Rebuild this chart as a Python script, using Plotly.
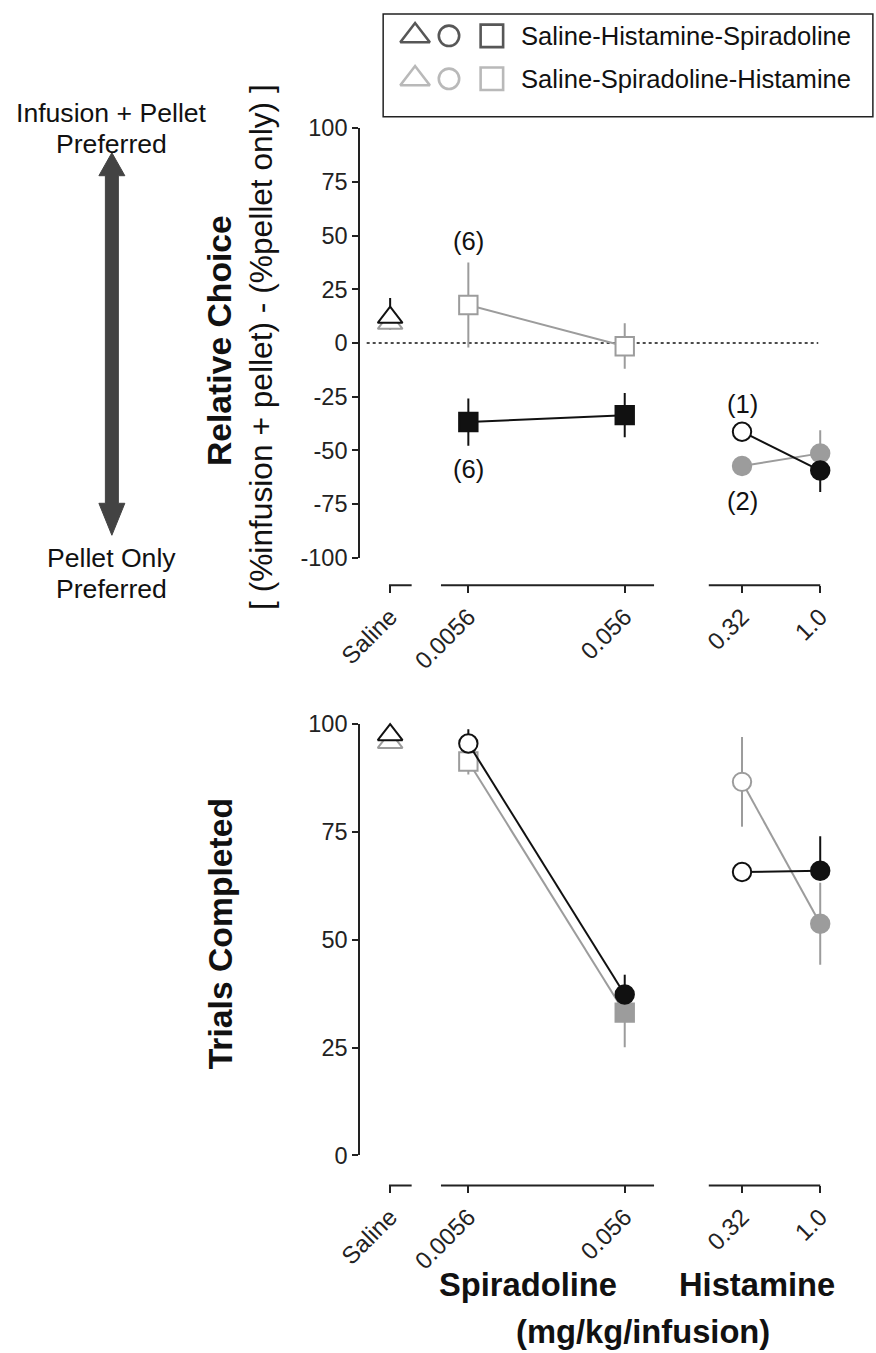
import plotly.graph_objects as go

W, H = 876, 1353

# ---------------- data ----------------
x_labels = ["Saline", "0.0056", "0.056", "0.32", "1.0"]
x_pos = [0, 2, 6, 9, 11]          # positions on the broken dose axis
spir_x = [x_pos[1], x_pos[2]]
hist_x = [x_pos[3], x_pos[4]]
sal_x = [x_pos[0]]

# Relative choice (top panel)
rc_sal_black = [11.9]
rc_sal_black_err = [9.0]
rc_sal_gray = [9.1]
rc_sal_gray_err = [3.0]
rc_spir_gray = [17.7, -1.5]
rc_spir_gray_up = [19.8, 10.7]
rc_spir_gray_dn = [19.8, 10.5]
rc_spir_black = [-36.8, -33.6]
rc_spir_black_up = [11.0, 10.3]
rc_spir_black_dn = [11.0, 10.3]
rc_hist_gray = [-57.3, -51.4]
rc_hist_gray_up = [0.0, 10.8]
rc_hist_gray_dn = [0.0, 0.0]
rc_hist_black = [-41.3, -59.4]
rc_hist_black_up = [0.0, 0.0]
rc_hist_black_dn = [0.0, 10.0]

# Trials completed (bottom panel)
tc_sal_black = [97.5]
tc_sal_black_err = [3.0]
tc_sal_gray = [95.7]
tc_sal_gray_err = [1.5]
tc_spir_gray = [91.3, 33.1]
tc_spir_gray_up = [3.0, 0.0]
tc_spir_gray_dn = [3.0, 8.0]
tc_spir_black = [95.5, 37.3]
tc_spir_black_up = [3.3, 4.6]
tc_spir_black_dn = [0.0, 0.0]
tc_hist_gray = [86.6, 53.7]
tc_hist_gray_up = [10.4, 9.5]
tc_hist_gray_dn = [10.4, 9.5]
tc_hist_black = [65.7, 66.0]
tc_hist_black_up = [0.0, 8.0]
tc_hist_black_dn = [0.0, 0.0]

n_labels_top = [("(6)", 1, 47.5), ("(6)", 1, -58.7), ("(1)", 3, -28.4), ("(2)", 3, -73.7)]

series_names = ["Saline-Histamine-Spiradoline", "Saline-Spiradoline-Histamine"]

# ---------------- style ----------------
BLACK = "#111111"
GRAY = "#9c9c9c"
AX = "#222222"
FONT = "Arial, Liberation Sans, Helvetica, sans-serif"

# the photographed page shows a slightly enlarged viewport; compensate
SX, OX = 0.974, 20.9
SY, OY = 0.982, 12.1
K = 1 / 0.978  # size compensation


def clamp(v):
    return max(0.0, min(1.0, v))


def X(px):
    return clamp((px - OX) / SX / W)


def Y(py):
    return clamp(1 - (py - OY) / SY / H)


def Yinv(p):
    return (1 - p) * H * SY + OY


def fs(v):
    return round(v * K, 1)


fig = go.Figure()


def add(xs, ys, up, dn, color, symbol, filled, xa, ya, size=18):
    fig.add_trace(go.Scatter(
        x=xs, y=ys, mode="lines+markers", xaxis=xa, yaxis=ya,
        line=dict(color=color, width=2),
        marker=dict(symbol=symbol, size=fs(size),
                    color=[color if f else "white" for f in filled],
                    line=dict(color=color, width=2)),
        error_y=dict(type="data", symmetric=False, array=up, arrayminus=dn,
                     color=color, thickness=2, width=0),
        cliponaxis=False, showlegend=False, hoverinfo="x+y"))


TRI = 21
# top panel
add(sal_x, rc_sal_gray, rc_sal_gray_err, rc_sal_gray_err, GRAY, "triangle-up", [False], "x", "y", TRI)
add(sal_x, rc_sal_black, rc_sal_black_err, [0.0], BLACK, "triangle-up", [False], "x", "y", TRI)
add(spir_x, rc_spir_gray, rc_spir_gray_up, rc_spir_gray_dn, GRAY, "square", [False, False], "x", "y")
add(spir_x, rc_spir_black, rc_spir_black_up, rc_spir_black_dn, BLACK, "square", [True, True], "x", "y")
add(hist_x, rc_hist_gray, rc_hist_gray_up, rc_hist_gray_dn, GRAY, "circle", [True, True], "x", "y")
add(hist_x, rc_hist_black, rc_hist_black_up, rc_hist_black_dn, BLACK, "circle", [False, True], "x", "y")

# bottom panel
add(sal_x, tc_sal_gray, tc_sal_gray_err, tc_sal_gray_err, GRAY, "triangle-up", [False], "x2", "y2", TRI)
add(sal_x, tc_sal_black, tc_sal_black_err, [0.0], BLACK, "triangle-up", [False], "x2", "y2", TRI)
add(spir_x, tc_spir_gray, tc_spir_gray_up, tc_spir_gray_dn, GRAY, "square", [False, True], "x2", "y2")
add(spir_x, tc_spir_black, tc_spir_black_up, tc_spir_black_dn, BLACK, "circle", [False, True], "x2", "y2")
add(hist_x, tc_hist_gray, tc_hist_gray_up, tc_hist_gray_dn, GRAY, "circle", [False, True], "x2", "y2")
add(hist_x, tc_hist_black, tc_hist_black_up, tc_hist_black_dn, BLACK, "circle", [False, True], "x2", "y2")

# ---------------- axes ----------------
px_per_unit = 39.2
x_origin_px = 389
ax_left_px, ax_right_px = 359, 830
xr = [(ax_left_px - x_origin_px) / px_per_unit, (ax_right_px - x_origin_px) / px_per_unit]
xdom = [X(ax_left_px), X(ax_right_px)]

top_axis_py, bot_axis_py = 585, 1186

xcommon = dict(domain=xdom, range=xr, anchor="free", tickmode="array",
               tickvals=x_pos, ticktext=x_labels, tickangle=-45,
               ticks="outside", ticklen=7, tickwidth=2, tickcolor=AX,
               showline=False, showgrid=False, zeroline=False,
               tickfont=dict(family=FONT, size=fs(23.5), color=AX))
ycommon = dict(showline=True, linewidth=2, linecolor=AX, ticks="outside",
               ticklen=6, tickwidth=2, tickcolor=AX, showgrid=False,
               zeroline=False, tickmode="array",
               tickfont=dict(family=FONT, size=fs(23), color=AX))

top_ticks = list(range(100, -101, -25))
bot_ticks = list(range(0, 101, 25))

fig.update_layout(
    width=W, height=H, margin=dict(l=0, r=0, t=0, b=0),
    plot_bgcolor="white", paper_bgcolor="white", showlegend=False,
    xaxis=dict(**xcommon, position=Y(top_axis_py)),
    yaxis=dict(**ycommon, domain=[Y(557.5), Y(127.5)], range=[-100, 100], anchor="x",
               tickvals=top_ticks, ticktext=[str(v) for v in top_ticks]),
    xaxis2=dict(**xcommon, position=Y(bot_axis_py)),
    yaxis2=dict(**ycommon, domain=[Y(1156), Y(724)], range=[0, 100], anchor="x2",
                tickvals=bot_ticks, ticktext=[str(v) for v in bot_ticks]),
)

shapes = []
# broken x-axis segments
segments = [(-0.03, 0.55), (1.3, 6.75), (8.15, 11.0)]
for py in (top_axis_py, bot_axis_py):
    xref = "x" if py == top_axis_py else "x2"
    for a, b in segments:
        shapes.append(dict(type="line", xref=xref, yref="paper", x0=a, x1=b,
                           y0=Y(py), y1=Y(py), line=dict(color=AX, width=2)))
# dotted zero line
shapes.append(dict(type="line", xref="x", yref="y", x0=-0.6, x1=10.95, y0=0, y1=0,
                   line=dict(color=BLACK, width=1.5, dash="dot"), layer="below"))

# double arrow on the left
ax_c, shaft_hw, head_hw = 110, 6.5, 13
tip_t, base_t, base_b, tip_b = 152, 175, 503, 535
pts = [(ax_c, tip_t), (ax_c + head_hw, base_t), (ax_c + shaft_hw, base_t),
       (ax_c + shaft_hw, base_b), (ax_c + head_hw, base_b), (ax_c, tip_b),
       (ax_c - head_hw, base_b), (ax_c - shaft_hw, base_b), (ax_c - shaft_hw, base_t),
       (ax_c - head_hw, base_t)]
path = "M " + " L ".join(f"{X(a):.5f},{Y(b):.5f}" for a, b in pts) + " Z"
shapes.append(dict(type="path", xref="paper", yref="paper", path=path,
                   fillcolor="#434343", line=dict(color="#434343", width=1)))

# legend box
leg_l, leg_t, leg_r, leg_b = 382, 8, 873, 116
leg_top_paper = min(Y(leg_t), 1 - 1.0 / H)
shapes.append(dict(type="rect", xref="paper", yref="paper", x0=X(leg_l), x1=X(leg_r),
                   y0=Y(leg_b), y1=leg_top_paper, line=dict(color=AX, width=1.5),
                   fillcolor="white", layer="below"))
fig.update_layout(shapes=shapes)

# legend keys (own hidden axes covering the legend box, pixel units)
leg_dom_top = Y(leg_t)
fig.update_layout(
    xaxis3=dict(domain=[X(leg_l), X(leg_r)], range=[leg_l, leg_r], visible=False, anchor="y3"),
    yaxis3=dict(domain=[Y(leg_b), leg_dom_top], range=[leg_b, Yinv(leg_dom_top)],
                visible=False, anchor="x3"),
)
row_y = [leg_t + 27, leg_t + 70]
key_x = [leg_l + 32, leg_l + 66, leg_l + 109]
key_sym = ["triangle-up", "circle", "square"]
key_size = [fs(25), fs(20), fs(22)]
for ry, col in zip(row_y, [BLACK, GRAY]):
    fig.add_trace(go.Scatter(
        x=key_x, y=[ry] * 3, xaxis="x3", yaxis="y3", mode="markers",
        marker=dict(symbol=key_sym, size=key_size, color="white",
                    line=dict(color=col, width=2.6)),
        showlegend=False, hoverinfo="skip", cliponaxis=False))

ann = []
for name, ry in zip(series_names, row_y):
    ann.append(dict(text=name, xref="paper", yref="paper", x=X(leg_l + 136), y=Y(ry),
                    xanchor="left", yanchor="middle", showarrow=False,
                    font=dict(family=FONT, size=fs(25), color=BLACK)))

# n labels
for t, i, v in n_labels_top:
    ann.append(dict(text=t, xref="x", yref="y", x=x_pos[i], y=v, showarrow=False,
                    xanchor="center", yanchor="middle",
                    font=dict(family=FONT, size=fs(25), color=BLACK)))

# titles
ann.append(dict(text="<b>Relative Choice</b>", xref="paper", yref="paper", x=X(218), y=Y(340),
                textangle=-90, showarrow=False, xanchor="center", yanchor="middle",
                font=dict(family=FONT, size=fs(33), color=BLACK)))
ann.append(dict(text="[ (%infusion + pellet) - (%pellet only) ]", xref="paper", yref="paper",
                x=X(260), y=Y(346), textangle=-90, showarrow=False,
                xanchor="center", yanchor="middle",
                font=dict(family=FONT, size=fs(31), color=BLACK)))
ann.append(dict(text="<b>Trials Completed</b>", xref="paper", yref="paper", x=X(218), y=Y(934),
                textangle=-90, showarrow=False, xanchor="center", yanchor="middle",
                font=dict(family=FONT, size=fs(33), color=BLACK)))

# arrow side labels
for t, py in [("Infusion + Pellet", 112), ("Preferred", 143), ("Pellet Only", 558), ("Preferred", 589)]:
    ann.append(dict(text=t, xref="paper", yref="paper", x=X(110), y=Y(py), showarrow=False,
                    xanchor="center", yanchor="middle",
                    font=dict(family=FONT, size=fs(26), color=BLACK)))

# drug / unit labels
for t, px, py in [("<b>Spiradoline</b>", 527, 1285), ("<b>Histamine</b>", 757, 1285),
                  ("<b>(mg/kg/infusion)</b>", 643, 1332)]:
    ann.append(dict(text=t, xref="paper", yref="paper", x=X(px), y=Y(py), showarrow=False,
                    xanchor="center", yanchor="middle",
                    font=dict(family=FONT, size=fs(32), color=BLACK)))

fig.update_layout(annotations=ann)

fig.write_html(
    "out.html",
    config={"displayModeBar": False},
    post_script=("document.documentElement.style.margin='0';"
                 "document.body.style.margin='0';document.body.style.padding='0';"
                 "document.documentElement.style.overflow='hidden';"
                 "document.body.style.overflow='hidden';"),
)
